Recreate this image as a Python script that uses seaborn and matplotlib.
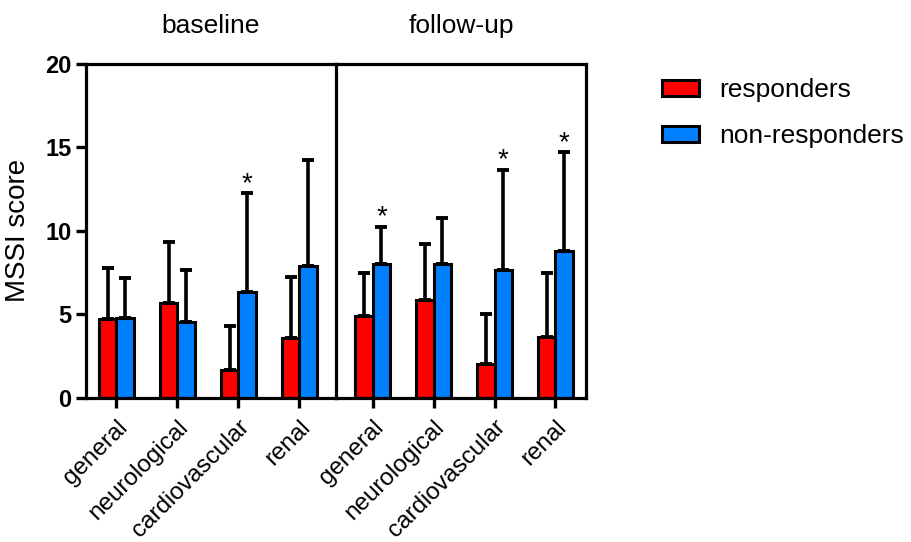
import numpy as np
import pandas as pd
import matplotlib
matplotlib.use("Agg")
import matplotlib.pyplot as plt
import seaborn as sns

sns.set_theme(style="ticks")
plt.rcParams['font.family'] = ['Liberation Sans', 'DejaVu Sans']
plt.rcParams.update({"text.color": "black", "axes.labelcolor": "black",
                     "xtick.color": "black", "ytick.color": "black"})

domains = ["general", "neurological", "cardiovascular", "renal"]
groups = ["responders", "non-responders"]
palette = {"responders": "#FF0000", "non-responders": "#0080FF"}

# baseline
base_resp_mean = [4.7, 5.7, 1.66, 3.56]
base_resp_sd = [3.06, 3.62, 2.66, 3.68]
base_non_mean = [4.8, 4.56, 6.32, 7.9]
base_non_sd = [2.4, 3.08, 5.92, 6.32]
base_star = [False, False, True, False]

# follow-up
fu_resp_mean = [4.9, 5.84, 2.0, 3.66]
fu_resp_sd = [2.6, 3.4, 3.0, 3.8]
fu_non_mean = [8.0, 8.0, 7.66, 8.78]
fu_non_sd = [2.24, 2.76, 5.98, 5.92]
fu_star = [True, False, True, True]


def make_df(resp_m, resp_sd, non_m, non_sd):
    return pd.DataFrame({
        "domain": domains * 2,
        "group": ["responders"] * 4 + ["non-responders"] * 4,
        "score": resp_m + non_m,
        "sd": resp_sd + non_sd,
    })


panels = [
    ("baseline", make_df(base_resp_mean, base_resp_sd, base_non_mean, base_non_sd), base_star, (-0.5, 3.6)),
    ("follow-up", make_df(fu_resp_mean, fu_resp_sd, fu_non_mean, fu_non_sd), fu_star, (-0.6, 3.5)),
]

fig, axes = plt.subplots(1, 2, figsize=(9.12, 5.42), dpi=100, sharey=True,
                         gridspec_kw={"wspace": 0})
fig.subplots_adjust(left=0.0943, right=0.6425, top=0.882, bottom=0.266)

for ax, (title, df, stars, xlim) in zip(axes, panels):
    sns.barplot(data=df, x="domain", y="score", hue="group", hue_order=groups,
                palette=palette, saturation=1, width=0.58, errorbar=None,
                edgecolor="black", linewidth=2.2, legend=False, ax=ax)
    # one-sided SD error bars
    for cont, grp in zip(ax.containers, groups):
        sub = df[df["group"] == grp]
        xs = [p.get_x() + p.get_width() / 2 for p in cont.patches]
        ys = [p.get_height() for p in cont.patches]
        sds = sub["sd"].tolist()
        ax.errorbar(xs, ys, yerr=[np.zeros(len(sds)), sds], fmt="none",
                    ecolor="black", elinewidth=2.6, capsize=4.4, capthick=2.8,
                    zorder=1)
        if grp == "non-responders":
            for x, y, s, st in zip(xs, ys, sds, stars):
                if st:
                    ax.text(x, y + s - 0.2, "*", ha="center", va="bottom",
                            fontsize=20, color="black")
    ax.set_xlim(*xlim)
    ax.set_ylim(0, 20)
    ax.set_title(title, fontsize=19, pad=22)
    ax.set_xlabel("")
    ax.set_xticks(range(len(domains)))
    ax.set_xticklabels(domains, rotation=45, ha="right", rotation_mode="anchor",
                       fontsize=17.5)
    ax.tick_params(axis="x", length=7, width=2.4, pad=6)
    for sp in ax.spines.values():
        sp.set_linewidth(2.3)
        sp.set_color("black")

axes[0].spines["right"].set_visible(False)
axes[0].set_yticks([0, 5, 10, 15, 20])
axes[0].set_yticklabels(["0", "5", "10", "15", "20"], fontweight="bold", fontsize=17)
axes[0].tick_params(axis="y", length=7, width=2.4)
axes[0].set_ylabel("MSSI score", fontsize=20, labelpad=10)
axes[1].tick_params(axis="y", left=False)
axes[1].set_ylabel("")

handles = [axes[0].containers[0], axes[0].containers[1]]
fig.legend(handles, groups, loc="upper left", bbox_to_anchor=(0.70, 0.90),
           frameon=False, fontsize=19, handlelength=1.4, handleheight=0.55,
           handletextpad=0.75, labelspacing=0.85)

fig.savefig("out.png", dpi=100)
